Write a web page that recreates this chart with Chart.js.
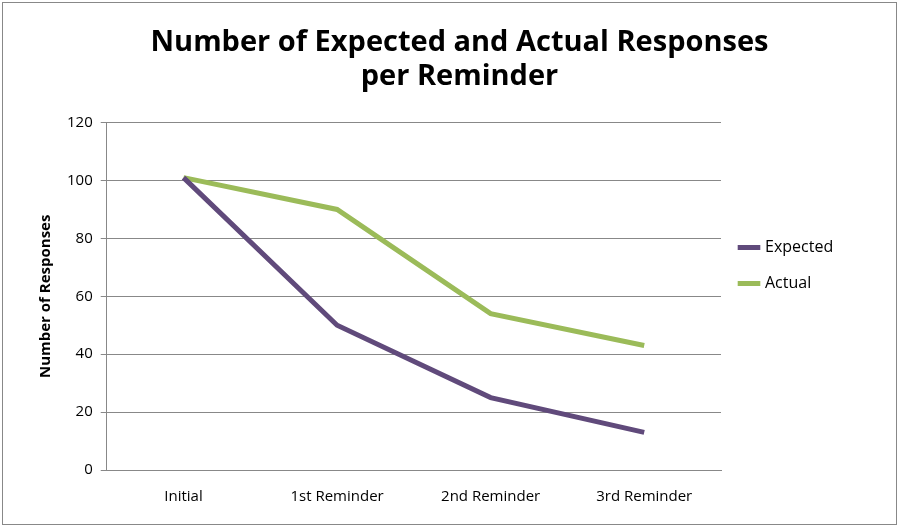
<!DOCTYPE html>
<html><head>
<script src="https://cdn.jsdelivr.net/npm/chart.js@4"></script>
<style>
body{margin:0;background:#fff}
#wrap{position:absolute;left:2px;top:2px;width:895px;height:523px;border:1px solid #888;box-sizing:border-box}
</style></head>
<body><div id="wrap"><canvas id="c"></canvas></div>
<script>
// data
const categories=['Initial','1st Reminder','2nd Reminder','3rd Reminder'];
const expected=[101,50,25,13];
const actual=[101,90,54,43];

new Chart(document.getElementById('c'),{
  type:'line',
  data:{
    labels:categories,
    datasets:[
      {label:'Expected',data:expected,borderColor:'#604a7b',backgroundColor:'#604a7b',borderWidth:5,pointRadius:0,tension:0},
      {label:'Actual',data:actual,borderColor:'#9bbb59',backgroundColor:'#9bbb59',borderWidth:5,pointRadius:0,tension:0}
    ]
  },
  options:{
    responsive:true,maintainAspectRatio:false,animation:false,
    layout:{padding:{left:30,right:10,top:12,bottom:8}},
    plugins:{
      title:{display:true,text:['Number of Expected and Actual Responses','per Reminder'],
        color:'#000',font:{family:'Open Sans',size:29,weight:'bold'},lineHeight:1.45,padding:{top:10,bottom:28}},
      legend:{position:'right',
        labels:{usePointStyle:true,pointStyle:'line',boxWidth:40,padding:20,color:'#000',
          font:{family:'Open Sans',size:16}}}
    },
    scales:{
      x:{offset:true,grid:{display:false},border:{color:'#888'},
        ticks:{color:'#000',font:{family:'Open Sans',size:15},padding:10}},
      y:{min:0,max:120,ticks:{stepSize:20,color:'#000',font:{family:'Open Sans',size:15},padding:8},
        grid:{color:'#888',drawTicks:true,tickLength:6},border:{color:'#888'},
        title:{display:true,text:'Number of Responses',color:'#000',font:{family:'Open Sans',size:15,weight:'bold'}}}
    }
  },
  plugins:[{id:'legw',beforeInit(chart){
    const l=chart.legend;
  },afterUpdate(){} }]
});
// widen legend box like the original
Chart.getChart('c').legend.options.maxWidth=undefined;
const ch=Chart.getChart('c');
const origFit=ch.legend.fit.bind(ch.legend);
ch.legend.fit=function(){origFit();this.width=165;};
ch.update();
</script></body></html>
